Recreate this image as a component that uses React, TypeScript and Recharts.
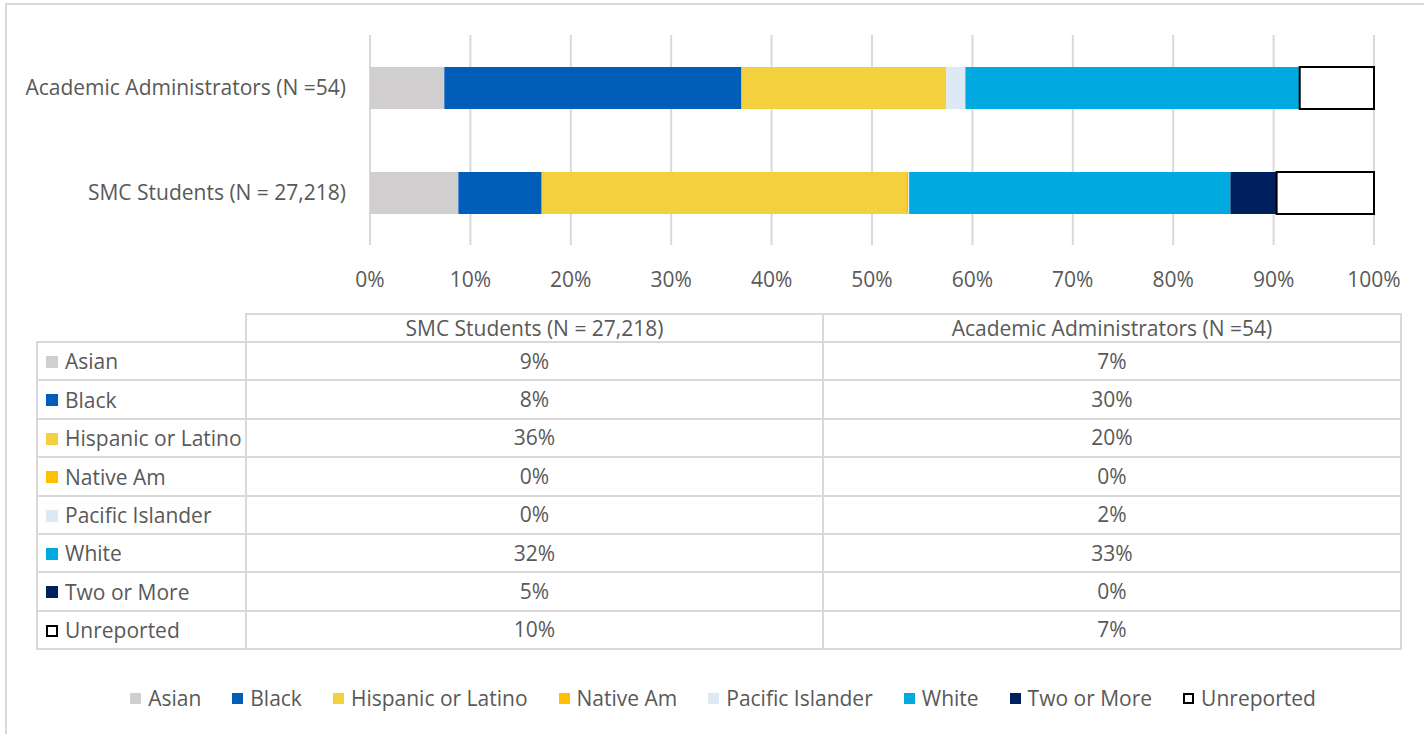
import React from "react";
import { BarChart, Bar, XAxis, YAxis, CartesianGrid, Legend } from "recharts";

// categories (Excel order: first one is drawn at the bottom)
const categories = ["SMC Students (N = 27,218)", "Academic Administrators (N =54)"];

const groups = ["Asian", "Black", "Hispanic or Latino", "Native Am", "Pacific Islander", "White", "Two or More", "Unreported"];

// share in percent
const studentShares = [8.8, 8.3, 36.3, 0.2, 0.1, 32.0, 4.6, 9.7];
const adminShares = [7.4, 29.6, 20.4, 0, 1.9, 33.3, 0, 7.4];

const groupColors = ["#D0CECE", "#005EB8", "#F3D03E", "#FFC000", "#DDEAF6", "#00A9E0", "#001F5F", "#FFFFFF"];

const xTicks = [0, 10, 20, 30, 40, 50, 60, 70, 80, 90, 100];

const FONT = "'Open Sans', Lato, sans-serif";
const FS = 21;
const TEXT = "#595959";
const LINE = "#d9d9d9";

const shareLists = [studentShares, adminShares];

const chartData = categories.map((name, ci) => {
  const row: Record<string, string | number> = { name };
  groups.forEach((g, gi) => {
    row[g] = shareLists[ci][gi];
  });
  return row;
});

function Swatch({ i, size = 12, gap = 7 }: { i: number; size?: number; gap?: number }) {
  const last = groups[i] === "Unreported";
  return (
    <span
      style={{
        display: "inline-block",
        width: size,
        height: size,
        boxSizing: "border-box",
        background: groupColors[i],
        border: last ? "2px solid #000" : "none",
        marginRight: gap,
        flexShrink: 0,
      }}
    />
  );
}

function LegendRow() {
  return (
    <div style={{ display: "flex", justifyContent: "center", alignItems: "center", height: 30, paddingLeft: 22, fontFamily: FONT, fontSize: FS, color: TEXT }}>
      {groups.map((g, i) => (
        <span key={g} style={{ display: "inline-flex", alignItems: "center", marginRight: i < groups.length - 1 ? 31 : 0 }}>
          <Swatch i={i} size={11} />
          {g}
        </span>
      ))}
    </div>
  );
}

function DataTable() {
  const cell: React.CSSProperties = { border: `2px solid ${LINE}`, padding: 0, textAlign: "center", lineHeight: 1 };
  return (
    <table
      style={{
        position: "absolute",
        left: 36,
        top: 313,
        borderCollapse: "collapse",
        fontFamily: FONT,
        fontSize: FS,
        color: TEXT,
        tableLayout: "fixed",
      }}
    >
      <colgroup>
        <col style={{ width: 209 }} />
        <col style={{ width: 577 }} />
        <col style={{ width: 578 }} />
      </colgroup>
      <tbody>
        <tr style={{ height: 28 }}>
          <td style={{ ...cell, border: "none", borderBottom: `2px solid ${LINE}`, borderRight: `2px solid ${LINE}` }} />
          <td style={cell}>{categories[0]}</td>
          <td style={cell}>{categories[1]}</td>
        </tr>
        {groups.map((g, i) => (
          <tr key={g} style={{ height: 38.4 }}>
            <td style={{ ...cell, textAlign: "left", paddingLeft: 8, whiteSpace: "nowrap" }}>
              <span style={{ display: "inline-flex", alignItems: "center" }}>
                <Swatch i={i} />
                {g}
              </span>
            </td>
            <td style={cell}>{Math.round(studentShares[i])}%</td>
            <td style={cell}>{Math.round(adminShares[i])}%</td>
          </tr>
        ))}
      </tbody>
    </table>
  );
}

export default function App() {
  return (
    <div style={{ position: "relative", width: 1424, height: 734, overflow: "hidden", background: "#fff" }}>
      <style>{`body{margin:0}`}</style>
      <div style={{ position: "absolute", left: 5, top: 3, width: 1440, height: 760, border: `2px solid ${LINE}`, boxSizing: "border-box" }} />
      <BarChart
        width={1424}
        height={734}
        data={chartData}
        layout="vertical"
        barSize={42}
        margin={{ top: 35, right: 50, left: 0, bottom: 419 }}
      >
        <CartesianGrid horizontal={false} stroke={LINE} strokeWidth={2} />
        <XAxis
          type="number"
          domain={[0, 100]}
          ticks={xTicks}
          tickFormatter={(v) => `${v}%`}
          axisLine={false}
          tickLine={false}
          tickMargin={21}
          height={40}
          tick={{ fill: TEXT, fontSize: FS, fontFamily: FONT }}
        />
        <YAxis
          type="category"
          dataKey="name"
          reversed
          width={370}
          axisLine={false}
          tickLine={false}
          tickSize={0}
          tickMargin={24}
          tick={{ fill: TEXT, fontSize: FS, fontFamily: FONT }}
        />
        <Legend content={() => <LegendRow />} wrapperStyle={{ position: "absolute", top: 683, left: 0, width: 1424 }} />
        {groups.map((g, i) => (
          <Bar
            key={g}
            dataKey={g}
            stackId="race"
            fill={groupColors[i]}
            stroke={g === "Unreported" ? "#000" : undefined}
            strokeWidth={g === "Unreported" ? 2 : 0}
            isAnimationActive={false}
          />
        ))}
      </BarChart>
      <DataTable />
    </div>
  );
}
